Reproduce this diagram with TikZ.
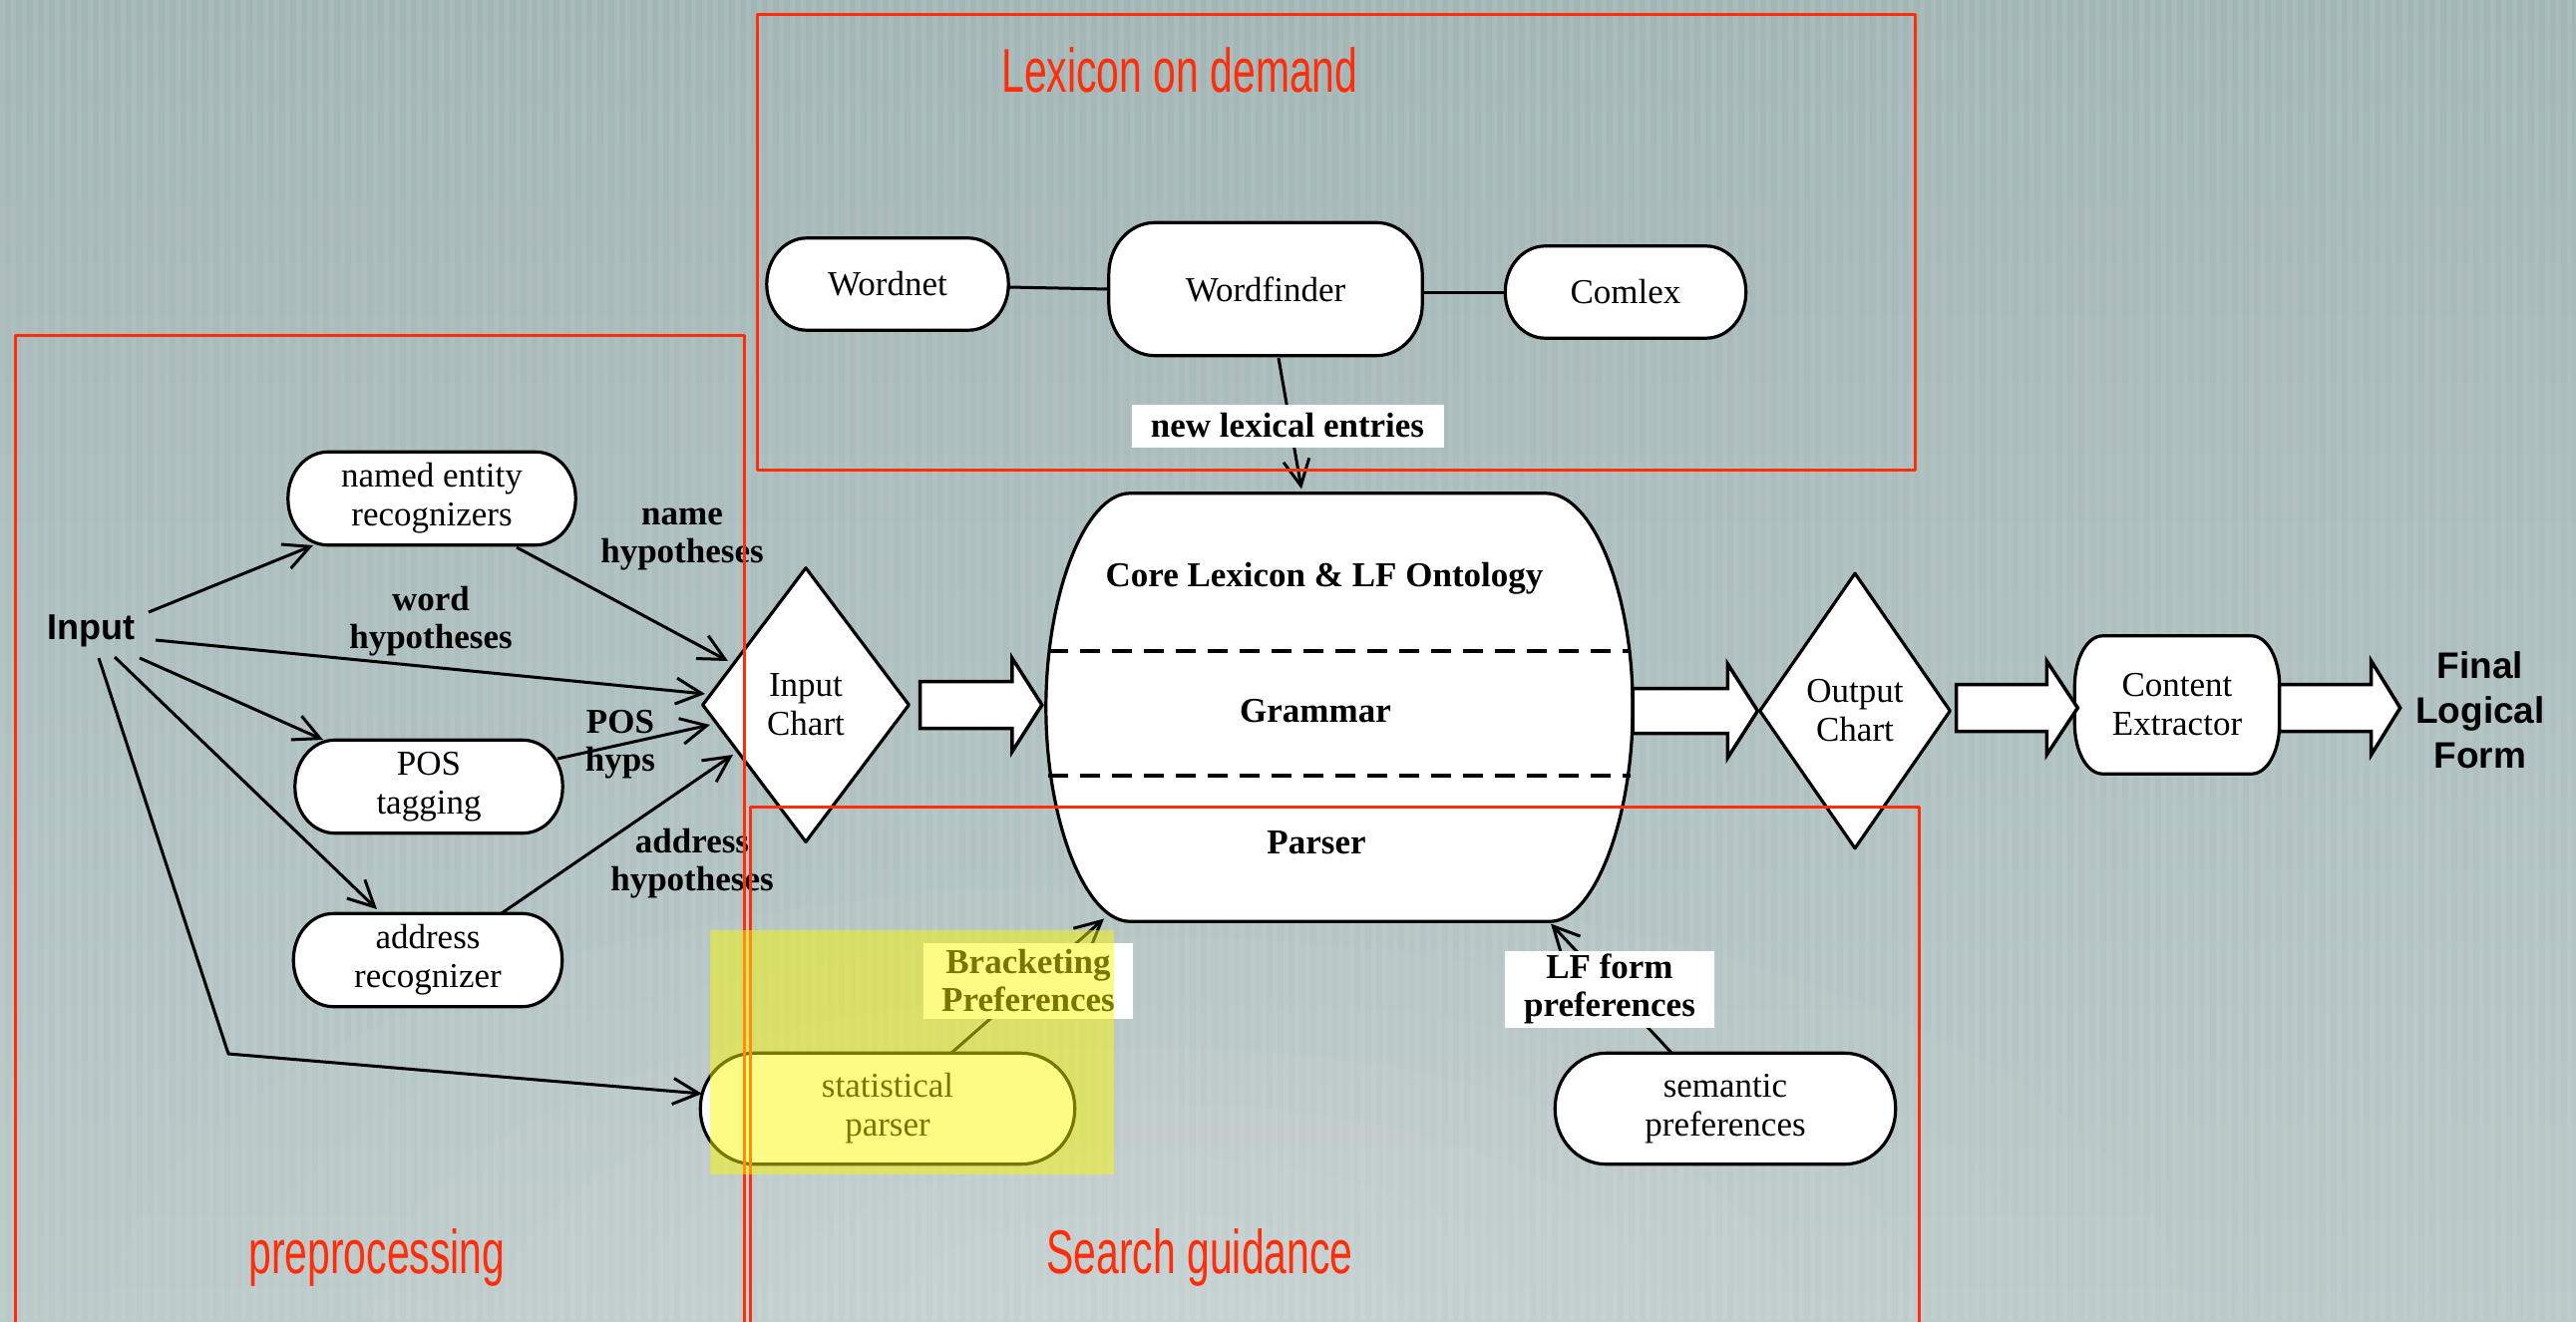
\documentclass[tikz,border=0pt]{standalone}
\usepackage{fontspec}
\setmainfont{Liberation Serif}
\setsansfont{Liberation Sans}
\newfontfamily\regionfont{Liberation Sans}
\usetikzlibrary{arrows.meta,shapes.geometric,calc}

\pgfdeclarelayer{backdrop}
\pgfdeclarelayer{shapes}
\pgfsetlayers{backdrop,shapes,main}

\definecolor{bgtop}{RGB}{163,182,182}
\definecolor{bgbot}{RGB}{186,201,201}
\definecolor{regionred}{RGB}{255,45,10}
\definecolor{hilite}{RGB}{250,250,0}

\tikzset{
  txt/.style={inner sep=0pt, align=center, font=\fontsize{35}{39}\selectfont},
  border/.style={draw, line width=3.2pt, fill=white},
  chart/.style={txt, border, diamond},
  elabel/.style={font=\bfseries\fontsize{35}{38}\selectfont, align=center, inner sep=0pt},
  tag/.style={elabel, fill=white},
  link/.style={line width=3pt},
  arr/.style={link, -{Straight Barb[length=26pt,width=26pt]}},
  fat/.style={draw, fill=white, line width=3.5pt, line join=miter},
  region/.style={draw=regionred, line width=3pt},
  regionlabel/.style={text=regionred, font=\regionfont\fontsize{62}{70}\selectfont,
    anchor=base, inner sep=0pt},
  sanslabel/.style={font=\sffamily\bfseries\fontsize{#1}{45}\selectfont, align=center, inner sep=0pt},
}

% outline with elliptical corners around node #1: #2 x radius, #3 y radius
\newcommand\ovalframe[3]{%
  \begin{pgfonlayer}{shapes}
  \draw[border] ($(#1.north west)+(#2,0)$) -- ($(#1.north east)+(-#2,0)$)
    .. controls ($(#1.north east)+(-0.448*#2,0)$) and ($(#1.north east)+(0,0.448*#3)$) .. ($(#1.north east)+(0,#3)$)
    -- ($(#1.south east)+(0,-#3)$)
    .. controls ($(#1.south east)+(0,-0.448*#3)$) and ($(#1.south east)+(-0.448*#2,0)$) .. ($(#1.south east)+(-#2,0)$)
    -- ($(#1.south west)+(#2,0)$)
    .. controls ($(#1.south west)+(0.448*#2,0)$) and ($(#1.south west)+(0,-0.448*#3)$) .. ($(#1.south west)+(0,-#3)$)
    -- ($(#1.north west)+(0,#3)$)
    .. controls ($(#1.north west)+(0,0.448*#3)$) and ($(#1.north west)+(0.448*#2,0)$) .. ($(#1.north west)+(#2,0)$)
    -- cycle;
  \end{pgfonlayer}}

% hollow block arrow: #1 start point, #2 tip point, #3 head length,
% #4 shaft half height, #5 head half height
\newcommand\fatarrow[5]{%
  \draw[fat] let \p1=(#1), \p2=(#2) in
    (\x1,\y2+#4) -- (\x2-#3,\y2+#4) -- (\x2-#3,\y2+#5) -- (\x2,\y2)
    -- (\x2-#3,\y2-#5) -- (\x2-#3,\y2-#4) -- (\x1,\y2-#4) -- cycle;}

\begin{document}
\begin{tikzpicture}[x=1pt,y=-1pt,line join=round]
\useasboundingbox (0,0) rectangle (2583,1325);
\clip (0,0) rectangle (2583,1325);

% striped background
\begin{pgfonlayer}{backdrop}
\shade[top color=bgtop, bottom color=bgbot] (0,0) rectangle (2583,1325);
\foreach \r in {1,...,8}
  \fill[white, opacity=0.03] (1150,1325) ellipse ({130*\r} and {55*\r});
\foreach \i in {0,...,235}
  \fill[white, opacity=0.07] (\i*11,0) rectangle (\i*11+5,1325);
\end{pgfonlayer}

% preprocessing modules
\node[sanslabel=36] (input) at (91,633) {Input};
\node[txt, minimum width=288pt, minimum height=93pt] (ner) at (433,500) {named entity\\recognizers};
\node[txt, minimum width=268pt, minimum height=93pt] (pos) at (430,789) {POS\\tagging};
\node[txt, minimum width=269pt, minimum height=93pt] (addr) at (429,963) {address\\recognizer};
\ovalframe{ner}{40}{46}
\ovalframe{pos}{40}{46}
\ovalframe{addr}{40}{46}

% lexicon sources
\node[txt, minimum width=242pt, minimum height=92pt] (wordnet) at (890,285) {Wordnet};
\node[txt, minimum width=314pt, minimum height=133pt] (wf) at (1269,290) {Wordfinder};
\node[txt, minimum width=241pt, minimum height=92pt] (comlex) at (1630,293) {Comlex};
\ovalframe{wordnet}{40}{46}
\ovalframe{wf}{46}{52}
\ovalframe{comlex}{40}{46}

% charts and downstream
\node[chart, minimum width=208pt, minimum height=276pt] (ic) at (808,707) {Input\\Chart};
\node[chart, minimum width=192pt, minimum height=277pt] (oc) at (1860,713) {Output\\Chart};
\node[txt, minimum width=205pt, minimum height=138pt] (ce) at (2183,707) {Content\\Extractor};
\ovalframe{ce}{28}{50}
\node[sanslabel=37] (final) at (2487,712) {Final\\Logical\\Form};

% guidance sources
\node[txt, minimum width=375pt, minimum height=111pt] (stat) at (890,1112) {statistical\\parser};
\node[txt, minimum width=341pt, minimum height=111pt] (sem) at (1730,1112) {semantic\\preferences};
\ovalframe{stat}{54}{55}
\ovalframe{sem}{51}{55}

% central barrel: lexicon, grammar, parser
\node[minimum width=588pt, minimum height=429pt, inner sep=0pt] (core) at (1343,709.5) {};
\begin{pgfonlayer}{shapes}
\draw[border]
  ($(core.north west)+(84,0)$) -- ($(core.north east)+(-87,0)$)
  .. controls ($(core.north east)+(-40,0)$) and ($(core.east)+(0,-115)$) .. (core.east)
  .. controls ($(core.east)+(0,115)$) and ($(core.south east)+(-40,0)$) .. ($(core.south east)+(-83,0)$)
  -- ($(core.south west)+(84,0)$)
  .. controls ($(core.south west)+(40,0)$) and ($(core.west)+(0,115)$) .. (core.west)
  .. controls ($(core.west)+(0,-115)$) and ($(core.north west)+(40,0)$) .. ($(core.north west)+(84,0)$)
  -- cycle;
\end{pgfonlayer}
\draw[line width=4pt, dash pattern=on 20pt off 12pt, line cap=butt]
  ($(core.west)+(2,-56.5)$) -- ($(core.east)+(-2,-56.5)$);
\draw[line width=4pt, dash pattern=on 20pt off 12pt, line cap=butt]
  ($(core.west)+(2,68.5)$) -- ($(core.east)+(-2,68.5)$);
\node[elabel] (lexlayer) at (1328,580) {Core Lexicon \& LF Ontology};
\node[elabel] (gramlayer) at (1319,713) {Grammar};
\node[elabel] (parslayer) at (1320,845) {Parser};

% connectors
\draw[arr] ($(input)+(58,-19)$) -- ($(ner)+(-119,47)$);
\draw[arr] ($(input)+(65,9)$) -- ($(ic)+(-101,-11)$);
\draw[arr] ($(input)+(49,27)$) -- ($(pos)+(-106,-47)$);
\draw[arr] ($(input)+(24,26)$) -- ($(addr)+(-51,-51)$);
\coordinate (sbend) at (229,1057);
\draw[arr] ($(input)+(8,27)$) -- (sbend) -- ($(stat)+(-186,-15)$);
\draw[arr] ($(ner)+(85,49)$) -- ($(ic)+(-78,-44)$);
\draw[arr] ($(pos)+(129,-28)$) -- ($(ic)+(-96,20)$);
\draw[arr] ($(addr)+(74,-47)$) -- ($(ic)+(-73,50)$);
\draw[link] ($(wordnet)+(121,3)$) -- ($(wf)+(-157,0)$);
\draw[link] ($(wf)+(157,3)$) -- ($(comlex)+(-120,0)$);
\draw[arr] ($(wf)+(13,69)$) -- ($(core)+(-38,-219)$);
\draw[arr] ($(stat)+(63,-55)$) -- ($(core)+(-236,212)$);
\draw[arr] ($(sem)+(-53,-55)$) -- ($(core)+(212,217)$);

% block arrows along the main pipeline
\fatarrow{$(ic.east)+(9,0)$}{$(core.west)+(-4,-2.5)$}{30pt}{23.5pt}{47pt}
\fatarrow{core.east}{oc.west}{30pt}{22.5pt}{47pt}
\fatarrow{$(oc.east)+(4,0)$}{$(ce.west)+(3,3)$}{31pt}{23.5pt}{47pt}
\fatarrow{ce.east}{$(ce.east)+(121,3)$}{29pt}{23.5pt}{47pt}

% connector labels
\node[elabel] (lname) at (684,541) {name\\hypotheses};
\node[elabel] (lword) at (432,623) {word\\hypotheses};
\node[elabel] (lpos) at (622,747) {POS\\hyps};
\node[elabel] (laddr) at (694,866) {address\\hypotheses};
\node[tag, minimum width=313pt, minimum height=43pt] (newlex) at (1291,427) {new lexical entries};
\node[tag, minimum width=210pt, minimum height=76pt] (brack) at (1031,984) {Bracketing\\Preferences};
\node[tag, minimum width=210pt, minimum height=77pt] (lfpref) at (1614,992) {LF form\\preferences};

% region frames
\draw[region] (759,14) rectangle (1920,471);
\draw[region] (15,336) rectangle (746,1340);
\draw[region] (752,809) rectangle (1924,1340);
\node[regionlabel] (tlex) at (1183,92) {\scalebox{0.66}[1]{Lexicon on demand}};
\node[regionlabel] (tpre) at (378,1277) {\scalebox{0.66}[1]{preprocessing}};
\node[regionlabel] (tsearch) at (1203,1277) {\scalebox{0.66}[1]{Search guidance}};

% highlight over the statistical parser
\fill[hilite, opacity=0.48] (712,933) rectangle (1117,1178);
\end{tikzpicture}
\end{document}
